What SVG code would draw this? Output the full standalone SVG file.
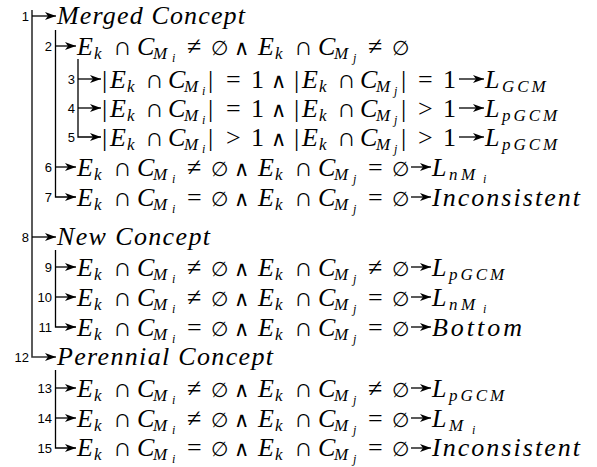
<svg xmlns="http://www.w3.org/2000/svg" width="597" height="467" viewBox="0 0 597 467">
<style>
.m{font-family:"Liberation Serif","Times New Roman",serif;font-size:26px;fill:#000}
.i{font-style:italic}
.s{font-size:17px;font-style:italic}
.ss{font-size:12px;font-style:italic}
.e{font-family:"DejaVu Serif",serif;font-size:20px;font-style:normal}
.w{font-family:"DejaVu Sans",sans-serif;font-size:21px;font-style:normal;font-weight:200}
.n{font-family:"Liberation Sans",Arial,sans-serif;font-size:13px;text-anchor:end;fill:#000}
.c{fill:none;stroke:#000;stroke-width:1.3}
.c0{fill:none;stroke:#333;stroke-width:1.6}
</style>
<defs>
<marker id="ah" markerWidth="12" markerHeight="8" refX="11" refY="4" orient="auto" markerUnits="userSpaceOnUse"><path d="M0,0 L11,4 L0,8 L3,4 z" fill="#000"/></marker>
</defs>
<rect width="597" height="467" fill="#fff"/>
<g id="connectors">
<path class="c0" d="M32,10 V357 H56" marker-end="url(#ah)"/>
<path class="c" d="M32,16 H56" marker-end="url(#ah)"/>
<path class="c" d="M32,237 H56" marker-end="url(#ah)"/>
<path class="c" d="M55.5,30 V197 H76" marker-end="url(#ah)"/>
<path class="c" d="M55.5,46 H76" marker-end="url(#ah)"/>
<path class="c" d="M55.5,167 H76" marker-end="url(#ah)"/>
<path class="c" d="M78,59 V137 H101" marker-end="url(#ah)"/>
<path class="c" d="M78,79 H101" marker-end="url(#ah)"/>
<path class="c" d="M78,108 H101" marker-end="url(#ah)"/>
<path class="c" d="M55.5,250 V327 H76" marker-end="url(#ah)"/>
<path class="c" d="M55.5,267 H76" marker-end="url(#ah)"/>
<path class="c" d="M55.5,297 H76" marker-end="url(#ah)"/>
<path class="c" d="M55.5,370 V448 H76" marker-end="url(#ah)"/>
<path class="c" d="M55.5,388 H76" marker-end="url(#ah)"/>
<path class="c" d="M55.5,418 H76" marker-end="url(#ah)"/>
<path class="c" d="M459,79 H484" marker-end="url(#ah)"/>
<path class="c" d="M459,108 H484" marker-end="url(#ah)"/>
<path class="c" d="M459,137 H484" marker-end="url(#ah)"/>
<path class="c" d="M411,167 H431" marker-end="url(#ah)"/>
<path class="c" d="M411,197 H431" marker-end="url(#ah)"/>
<path class="c" d="M411,267 H431" marker-end="url(#ah)"/>
<path class="c" d="M411,297 H431" marker-end="url(#ah)"/>
<path class="c" d="M411,327 H431" marker-end="url(#ah)"/>
<path class="c" d="M411,388 H431" marker-end="url(#ah)"/>
<path class="c" d="M411,418 H431" marker-end="url(#ah)"/>
<path class="c" d="M411,448 H431" marker-end="url(#ah)"/>
</g>
<g id="node1">
<text class="n" x="29" y="21">1</text>
<text class="m i" x="57" y="24" textLength="188">Merged Concept</text>
</g>
<g id="node2">
<text class="n" x="52" y="51">2</text>
<text class="m"><tspan class="i" x="77" y="55">E</tspan><tspan class="s" x="94" y="59">k</tspan><tspan x="113" y="55">∩</tspan><tspan class="i" x="137">C</tspan><tspan class="s" x="153" y="59">M</tspan><tspan class="ss" x="172" y="62">i</tspan><tspan x="187" y="55">≠</tspan><tspan class="e" x="211">∅</tspan><tspan class="w" x="234">∧</tspan><tspan class="i" x="258">E</tspan><tspan class="s" x="275" y="59">k</tspan><tspan x="294" y="55">∩</tspan><tspan class="i" x="318">C</tspan><tspan class="s" x="334" y="59">M</tspan><tspan class="ss" x="353" y="62">j</tspan><tspan x="368" y="55">≠</tspan><tspan class="e" x="392">∅</tspan></text>
</g>
<g id="node3">
<text class="n" x="75" y="84">3</text>
<text class="m"><tspan x="102" y="88">|</tspan><tspan class="i" x="110">E</tspan><tspan class="s" x="127" y="92">k</tspan><tspan x="145" y="88">∩</tspan><tspan class="i" x="168">C</tspan><tspan class="s" x="184" y="92">M</tspan><tspan class="ss" x="202" y="95">i</tspan><tspan x="208" y="88">|</tspan><tspan x="226">=</tspan><tspan x="251">1</tspan><tspan class="w" x="271">∧</tspan><tspan x="294">|</tspan><tspan class="i" x="302">E</tspan><tspan class="s" x="319" y="92">k</tspan><tspan x="337" y="88">∩</tspan><tspan class="i" x="360">C</tspan><tspan class="s" x="376" y="92">M</tspan><tspan class="ss" x="394" y="95">j</tspan><tspan x="401" y="88">|</tspan><tspan x="418">=</tspan><tspan x="443">1</tspan></text>
<text class="m"><tspan class="i" x="485" y="88">L</tspan><tspan class="s" x="502" y="92" letter-spacing="3">GCM</tspan></text>
</g>
<g id="node4">
<text class="n" x="75" y="113">4</text>
<text class="m"><tspan x="102" y="117">|</tspan><tspan class="i" x="110">E</tspan><tspan class="s" x="127" y="121">k</tspan><tspan x="145" y="117">∩</tspan><tspan class="i" x="168">C</tspan><tspan class="s" x="184" y="121">M</tspan><tspan class="ss" x="202" y="124">i</tspan><tspan x="208" y="117">|</tspan><tspan x="226">=</tspan><tspan x="251">1</tspan><tspan class="w" x="271">∧</tspan><tspan x="294">|</tspan><tspan class="i" x="302">E</tspan><tspan class="s" x="319" y="121">k</tspan><tspan x="337" y="117">∩</tspan><tspan class="i" x="360">C</tspan><tspan class="s" x="376" y="121">M</tspan><tspan class="ss" x="394" y="124">j</tspan><tspan x="401" y="117">|</tspan><tspan x="418">&gt;</tspan><tspan x="443">1</tspan></text>
<text class="m"><tspan class="i" x="485" y="117">L</tspan><tspan class="s" x="502" y="121" letter-spacing="3">pGCM</tspan></text>
</g>
<g id="node5">
<text class="n" x="75" y="142">5</text>
<text class="m"><tspan x="102" y="146">|</tspan><tspan class="i" x="110">E</tspan><tspan class="s" x="127" y="150">k</tspan><tspan x="145" y="146">∩</tspan><tspan class="i" x="168">C</tspan><tspan class="s" x="184" y="150">M</tspan><tspan class="ss" x="202" y="153">i</tspan><tspan x="208" y="146">|</tspan><tspan x="226">&gt;</tspan><tspan x="251">1</tspan><tspan class="w" x="271">∧</tspan><tspan x="294">|</tspan><tspan class="i" x="302">E</tspan><tspan class="s" x="319" y="150">k</tspan><tspan x="337" y="146">∩</tspan><tspan class="i" x="360">C</tspan><tspan class="s" x="376" y="150">M</tspan><tspan class="ss" x="394" y="153">j</tspan><tspan x="401" y="146">|</tspan><tspan x="418">&gt;</tspan><tspan x="443">1</tspan></text>
<text class="m"><tspan class="i" x="485" y="146">L</tspan><tspan class="s" x="502" y="150" letter-spacing="3">pGCM</tspan></text>
</g>
<g id="node6">
<text class="n" x="52" y="172">6</text>
<text class="m"><tspan class="i" x="77" y="176">E</tspan><tspan class="s" x="94" y="180">k</tspan><tspan x="113" y="176">∩</tspan><tspan class="i" x="137">C</tspan><tspan class="s" x="153" y="180">M</tspan><tspan class="ss" x="172" y="183">i</tspan><tspan x="187" y="176">≠</tspan><tspan class="e" x="211">∅</tspan><tspan class="w" x="234">∧</tspan><tspan class="i" x="258">E</tspan><tspan class="s" x="275" y="180">k</tspan><tspan x="294" y="176">∩</tspan><tspan class="i" x="318">C</tspan><tspan class="s" x="334" y="180">M</tspan><tspan class="ss" x="353" y="183">j</tspan><tspan x="368" y="176">=</tspan><tspan class="e" x="392">∅</tspan></text>
<text class="m"><tspan class="i" x="432" y="176">L</tspan><tspan class="s" x="449" y="180">n</tspan><tspan class="s" x="461">M</tspan><tspan class="ss" x="483" y="183">i</tspan></text>
</g>
<g id="node7">
<text class="n" x="52" y="202">7</text>
<text class="m"><tspan class="i" x="77" y="206">E</tspan><tspan class="s" x="94" y="210">k</tspan><tspan x="113" y="206">∩</tspan><tspan class="i" x="137">C</tspan><tspan class="s" x="153" y="210">M</tspan><tspan class="ss" x="172" y="213">i</tspan><tspan x="187" y="206">=</tspan><tspan class="e" x="211">∅</tspan><tspan class="w" x="234">∧</tspan><tspan class="i" x="258">E</tspan><tspan class="s" x="275" y="210">k</tspan><tspan x="294" y="206">∩</tspan><tspan class="i" x="318">C</tspan><tspan class="s" x="334" y="210">M</tspan><tspan class="ss" x="353" y="213">j</tspan><tspan x="368" y="206">=</tspan><tspan class="e" x="392">∅</tspan></text>
<text class="m i" x="432" y="206" textLength="148">Inconsistent</text>
</g>
<g id="node8">
<text class="n" x="29" y="242">8</text>
<text class="m i" x="57" y="245" textLength="153">New Concept</text>
</g>
<g id="node9">
<text class="n" x="52" y="272">9</text>
<text class="m"><tspan class="i" x="77" y="276">E</tspan><tspan class="s" x="94" y="280">k</tspan><tspan x="113" y="276">∩</tspan><tspan class="i" x="137">C</tspan><tspan class="s" x="153" y="280">M</tspan><tspan class="ss" x="172" y="283">i</tspan><tspan x="187" y="276">≠</tspan><tspan class="e" x="211">∅</tspan><tspan class="w" x="234">∧</tspan><tspan class="i" x="258">E</tspan><tspan class="s" x="275" y="280">k</tspan><tspan x="294" y="276">∩</tspan><tspan class="i" x="318">C</tspan><tspan class="s" x="334" y="280">M</tspan><tspan class="ss" x="353" y="283">j</tspan><tspan x="368" y="276">≠</tspan><tspan class="e" x="392">∅</tspan></text>
<text class="m"><tspan class="i" x="432" y="276">L</tspan><tspan class="s" x="449" y="280" letter-spacing="3">pGCM</tspan></text>
</g>
<g id="node10">
<text class="n" x="52" y="302">10</text>
<text class="m"><tspan class="i" x="77" y="306">E</tspan><tspan class="s" x="94" y="310">k</tspan><tspan x="113" y="306">∩</tspan><tspan class="i" x="137">C</tspan><tspan class="s" x="153" y="310">M</tspan><tspan class="ss" x="172" y="313">i</tspan><tspan x="187" y="306">≠</tspan><tspan class="e" x="211">∅</tspan><tspan class="w" x="234">∧</tspan><tspan class="i" x="258">E</tspan><tspan class="s" x="275" y="310">k</tspan><tspan x="294" y="306">∩</tspan><tspan class="i" x="318">C</tspan><tspan class="s" x="334" y="310">M</tspan><tspan class="ss" x="353" y="313">j</tspan><tspan x="368" y="306">=</tspan><tspan class="e" x="392">∅</tspan></text>
<text class="m"><tspan class="i" x="432" y="306">L</tspan><tspan class="s" x="449" y="310">n</tspan><tspan class="s" x="461">M</tspan><tspan class="ss" x="483" y="313">i</tspan></text>
</g>
<g id="node11">
<text class="n" x="52" y="332">11</text>
<text class="m"><tspan class="i" x="77" y="336">E</tspan><tspan class="s" x="94" y="340">k</tspan><tspan x="113" y="336">∩</tspan><tspan class="i" x="137">C</tspan><tspan class="s" x="153" y="340">M</tspan><tspan class="ss" x="172" y="343">i</tspan><tspan x="187" y="336">=</tspan><tspan class="e" x="211">∅</tspan><tspan class="w" x="234">∧</tspan><tspan class="i" x="258">E</tspan><tspan class="s" x="275" y="340">k</tspan><tspan x="294" y="336">∩</tspan><tspan class="i" x="318">C</tspan><tspan class="s" x="334" y="340">M</tspan><tspan class="ss" x="353" y="343">j</tspan><tspan x="368" y="336">=</tspan><tspan class="e" x="392">∅</tspan></text>
<text class="m i" x="432" y="336" textLength="90">Bottom</text>
</g>
<g id="node12">
<text class="n" x="29" y="362">12</text>
<text class="m i" x="57" y="365" textLength="216">Perennial Concept</text>
</g>
<g id="node13">
<text class="n" x="52" y="393">13</text>
<text class="m"><tspan class="i" x="77" y="397">E</tspan><tspan class="s" x="94" y="401">k</tspan><tspan x="113" y="397">∩</tspan><tspan class="i" x="137">C</tspan><tspan class="s" x="153" y="401">M</tspan><tspan class="ss" x="172" y="404">i</tspan><tspan x="187" y="397">≠</tspan><tspan class="e" x="211">∅</tspan><tspan class="w" x="234">∧</tspan><tspan class="i" x="258">E</tspan><tspan class="s" x="275" y="401">k</tspan><tspan x="294" y="397">∩</tspan><tspan class="i" x="318">C</tspan><tspan class="s" x="334" y="401">M</tspan><tspan class="ss" x="353" y="404">j</tspan><tspan x="368" y="397">≠</tspan><tspan class="e" x="392">∅</tspan></text>
<text class="m"><tspan class="i" x="432" y="397">L</tspan><tspan class="s" x="449" y="401" letter-spacing="3">pGCM</tspan></text>
</g>
<g id="node14">
<text class="n" x="52" y="423">14</text>
<text class="m"><tspan class="i" x="77" y="427">E</tspan><tspan class="s" x="94" y="431">k</tspan><tspan x="113" y="427">∩</tspan><tspan class="i" x="137">C</tspan><tspan class="s" x="153" y="431">M</tspan><tspan class="ss" x="172" y="434">i</tspan><tspan x="187" y="427">≠</tspan><tspan class="e" x="211">∅</tspan><tspan class="w" x="234">∧</tspan><tspan class="i" x="258">E</tspan><tspan class="s" x="275" y="431">k</tspan><tspan x="294" y="427">∩</tspan><tspan class="i" x="318">C</tspan><tspan class="s" x="334" y="431">M</tspan><tspan class="ss" x="353" y="434">j</tspan><tspan x="368" y="427">=</tspan><tspan class="e" x="392">∅</tspan></text>
<text class="m"><tspan class="i" x="432" y="427">L</tspan><tspan class="s" x="449" y="431">M</tspan><tspan class="ss" x="472" y="434">i</tspan></text>
</g>
<g id="node15">
<text class="n" x="52" y="453">15</text>
<text class="m"><tspan class="i" x="77" y="456">E</tspan><tspan class="s" x="94" y="460">k</tspan><tspan x="113" y="456">∩</tspan><tspan class="i" x="137">C</tspan><tspan class="s" x="153" y="460">M</tspan><tspan class="ss" x="172" y="463">i</tspan><tspan x="187" y="456">=</tspan><tspan class="e" x="211">∅</tspan><tspan class="w" x="234">∧</tspan><tspan class="i" x="258">E</tspan><tspan class="s" x="275" y="460">k</tspan><tspan x="294" y="456">∩</tspan><tspan class="i" x="318">C</tspan><tspan class="s" x="334" y="460">M</tspan><tspan class="ss" x="353" y="463">j</tspan><tspan x="368" y="456">=</tspan><tspan class="e" x="392">∅</tspan></text>
<text class="m i" x="432" y="456" textLength="148">Inconsistent</text>
</g>
</svg>
